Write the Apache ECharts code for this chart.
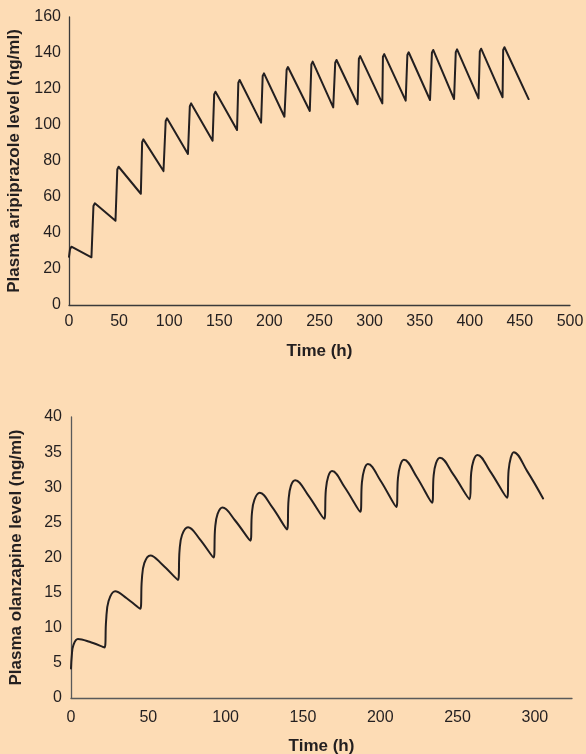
<!DOCTYPE html>
<html>
<head>
<meta charset="utf-8">
<script src="https://cdn.jsdelivr.net/npm/echarts@6/dist/echarts.min.js"></script>
<style>
  html, body { margin: 0; padding: 0; background: #fddcb5; }
  #chart { width: 586px; height: 754px; }
</style>
</head>
<body>
<div id="chart"></div>
<script>
// aripiprazole: time (h) and plasma level (ng/ml)
var ariTime = [
  0, 1, 2.4, 22.4,
  24.4, 25.8, 46.4,
  48.2, 49.5, 71.7,
  73, 74.2, 94.3,
  96.5, 97.8, 118.7,
  120.6, 121.9, 143.3,
  144.9, 146.2, 167.7,
  169, 170.3, 191.7,
  193.3, 194.6, 215,
  217.2, 218.5, 240.3,
  241.9, 243.2, 263.7,
  265.7, 267, 288,
  289.3, 290.6, 312.7,
  313.3, 314.6, 336,
  337.7, 339, 360.3,
  362.2, 363.5, 384.3,
  386, 387.3, 408.7,
  410, 411.3, 432.7,
  433.3, 434.6, 458.7
];
var ariLevel = [
  26.8, 31, 32.4, 26.5,
  55, 56.5, 46.8,
  75.3, 76.8, 61.8,
  90.5, 92, 74.4,
  102.2, 103.7, 83.9,
  110.5, 112, 91.3,
  117, 118.5, 97.2,
  123.5, 125, 101.3,
  127.2, 128.7, 104.6,
  130.7, 132.2, 107.8,
  133.7, 135.2, 109.8,
  134.6, 136.1, 111.5,
  136.8, 138.3, 112,
  137.9, 139.4, 113.5,
  138.9, 140.4, 113.9,
  140.2, 141.7, 114.4,
  140.5, 142, 114.8,
  140.9, 142.4, 115.4,
  141.7, 143.2, 114.4
];

// olanzapine: time (h) and plasma level (ng/ml)
var olzTime = [
  0, 0.5, 1.5, 4.5, 12,
  21.7, 22.7, 24.3, 28.5, 36,
  44.8, 45.8, 47.4, 51.3, 59,
  69.2, 70.2, 71.8, 75.7, 83,
  92.2, 93.2, 94.8, 98, 106,
  116, 117, 118.6, 122, 130,
  139.7, 140.7, 142.2, 145, 153,
  163.8, 164.8, 166.3, 168.8, 177,
  187.1, 188.1, 189.6, 192, 200,
  210.4, 211.4, 212.9, 215.3, 223.5,
  233.5, 234.5, 236, 238.6, 247,
  257.8, 258.8, 260.3, 262.8, 271,
  282, 283, 284.4, 286.3, 295,
  305.3
];
var olzLevel = [
  4.2, 6.0, 7.5, 8.4, 8.0,
  7.2, 11.0, 13.8, 15.2, 14.2,
  12.7, 16.8, 19.2, 20.3, 19.0,
  16.8, 21.0, 23.2, 24.3, 22.7,
  20.0, 24.2, 26.2, 27.1, 25.3,
  22.4, 26.3, 28.2, 29.2, 27.2,
  24.0, 28.2, 30.2, 31.0, 29.0,
  25.5, 29.6, 31.5, 32.3, 30.0,
  26.5, 30.6, 32.5, 33.3, 31.0,
  27.2, 31.2, 33.1, 33.9, 31.5,
  27.8, 31.6, 33.4, 34.2, 31.9,
  28.3, 32.0, 33.8, 34.6, 32.3,
  28.5, 32.4, 34.2, 35.0, 32.3,
  28.4
];

function pairs(xs, ys) {
  var res = [];
  for (var i = 0; i < xs.length; i++) {
    res.push([xs[i], ys[i]]);
  }
  return res;
}

var textColor = "#231f20";
var fontFamily = "'Liberation Sans', Arial, sans-serif";

var labelStyle = { color: textColor, fontSize: 16, fontFamily: fontFamily };
var nameStyle = { color: textColor, fontSize: 17, fontWeight: "bold", fontFamily: fontFamily };

var myChart = echarts.init(document.getElementById("chart"));
var option = {
  backgroundColor: "#fddcb5",
  animation: false,
  grid: [
    { left: 69, right: 16, top: 17, height: 288, containLabel: false, outerBoundsMode: "none" },
    { left: 71, right: 14, top: 417, height: 281, containLabel: false, outerBoundsMode: "none" }
  ],
  xAxis: [
    {
      gridIndex: 0,
      type: "value",
      min: 0,
      max: 500,
      interval: 50,
      name: "Time (h)",
      nameLocation: "middle",
      nameGap: 38,
      nameTextStyle: nameStyle,
      axisLine: { lineStyle: { color: "#3a3a3a", width: 1.3 } },
      axisTick: { show: false },
      splitLine: { show: false },
      axisLabel: Object.assign({ margin: 9 }, labelStyle)
    },
    {
      gridIndex: 1,
      type: "value",
      min: 0,
      max: 324,
      interval: 50,
      name: "Time (h)",
      nameLocation: "middle",
      nameGap: 40,
      nameTextStyle: nameStyle,
      axisLine: { lineStyle: { color: "#5a5a5a", width: 1.3 } },
      axisTick: { show: false },
      splitLine: { show: false },
      axisLabel: Object.assign({ margin: 12, showMaxLabel: false }, labelStyle)
    }
  ],
  yAxis: [
    {
      gridIndex: 0,
      type: "value",
      min: 0,
      max: 160,
      interval: 20,
      name: "Plasma aripiprazole level (ng/ml)",
      nameLocation: "middle",
      nameGap: 46,
      nameTextStyle: nameStyle,
      axisLine: { show: true, lineStyle: { color: "#3a3a3a", width: 1.3 } },
      axisTick: { show: false },
      splitLine: { show: false },
      axisLabel: Object.assign({ margin: 8 }, labelStyle)
    },
    {
      gridIndex: 1,
      type: "value",
      min: 0,
      max: 40,
      interval: 5,
      name: "Plasma olanzapine level (ng/ml)",
      nameLocation: "middle",
      nameGap: 46,
      nameTextStyle: nameStyle,
      axisLine: { show: true, lineStyle: { color: "#5a5a5a", width: 1.3 } },
      axisTick: { show: false },
      splitLine: { show: false },
      axisLabel: Object.assign({ margin: 9 }, labelStyle)
    }
  ],
  series: [
    {
      type: "line",
      xAxisIndex: 0,
      yAxisIndex: 0,
      data: pairs(ariTime, ariLevel),
      showSymbol: false,
      smooth: false,
      lineStyle: { color: textColor, width: 2, join: "round", cap: "round" }
    },
    {
      type: "line",
      xAxisIndex: 1,
      yAxisIndex: 1,
      data: pairs(olzTime, olzLevel),
      showSymbol: false,
      smooth: 0.4,
      lineStyle: { color: textColor, width: 2, join: "round", cap: "round" }
    }
  ]
};
myChart.setOption(option);
</script>
</body>
</html>
